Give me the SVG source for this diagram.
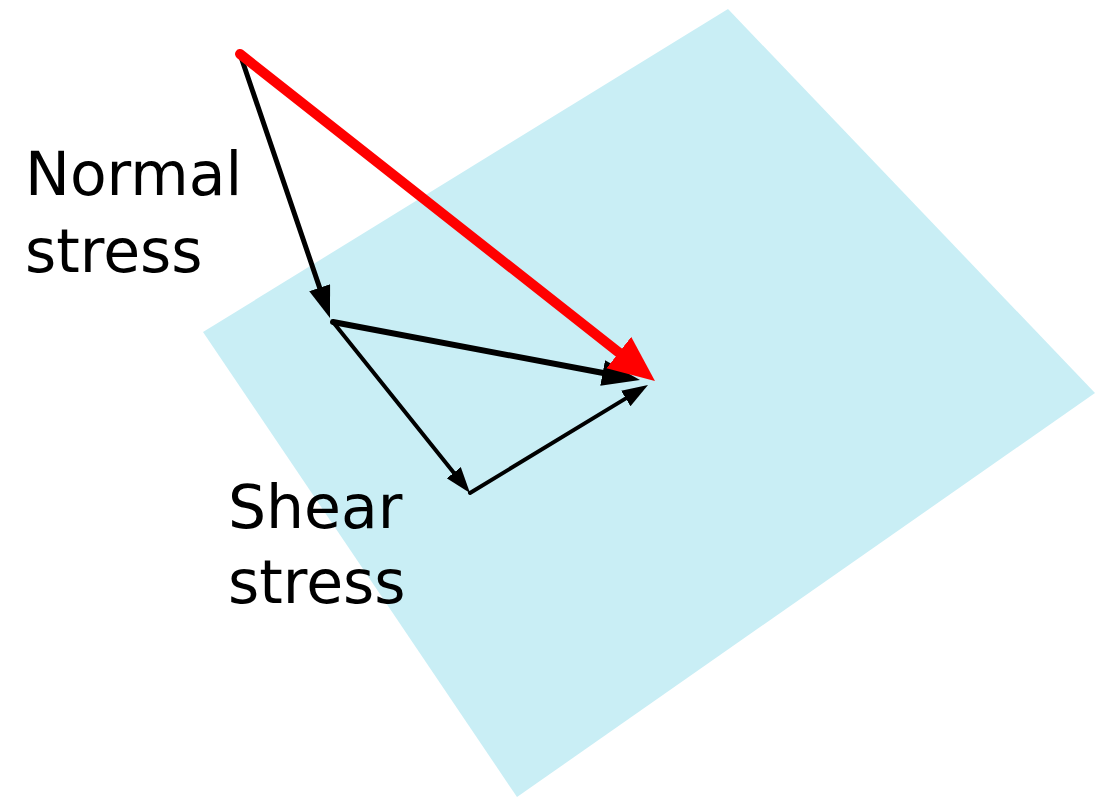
<svg xmlns="http://www.w3.org/2000/svg" width="1101" height="797" viewBox="0 0 1101 797">
<style>
.lbl{font-family:"DejaVu Sans","Liberation Sans",sans-serif;font-size:60px;fill:#000}
.blk{stroke:#000;fill:none;stroke-linecap:round}
</style>
<defs>
<marker id="hRed" markerUnits="userSpaceOnUse" markerWidth="50" markerHeight="44" refX="2" refY="20" orient="auto" viewBox="0 0 50 44"><polygon points="0,0 46,20 0,40" fill="#ff0000"/></marker>
<marker id="hBig" markerUnits="userSpaceOnUse" markerWidth="40" markerHeight="30" refX="2" refY="13" orient="auto" viewBox="0 0 40 30"><polygon points="0,0 38,13 0,26" fill="#000"/></marker>
<marker id="hMid" markerUnits="userSpaceOnUse" markerWidth="34" markerHeight="26" refX="2" refY="11" orient="auto" viewBox="0 0 34 26"><polygon points="0,0 32,11 0,22" fill="#000"/></marker>
<marker id="hSm" markerUnits="userSpaceOnUse" markerWidth="28" markerHeight="22" refX="2" refY="9" orient="auto" viewBox="0 0 28 22"><polygon points="0,0 26,9 0,18" fill="#000"/></marker>
</defs>
<g id="plane"><polygon points="728,9 1095,393 517,797 203,332" fill="#c9eef5"/></g>
<g id="connectors">
<line x1="240" y1="54" x2="320.3" y2="289.6" class="blk" stroke-width="5" marker-end="url(#hMid)"/>
<line x1="333" y1="322" x2="604.6" y2="373.3" class="blk" stroke-width="6" marker-end="url(#hBig)"/>
<line x1="333" y1="322" x2="455" y2="474.3" class="blk" stroke-width="4" marker-end="url(#hSm)"/>
<line x1="470" y1="493" x2="627.5" y2="397.4" class="blk" stroke-width="4" marker-end="url(#hSm)"/>
<line x1="240" y1="54" x2="620.4" y2="353.8" stroke="#ff0000" stroke-width="10" stroke-linecap="round" marker-end="url(#hRed)"/>
</g>
<g id="normal-label"><text class="lbl" x="25" y="195">Normal</text><text class="lbl" x="25" y="272">stress</text></g>
<g id="shear-label"><text class="lbl" x="228" y="528">Shear</text><text class="lbl" x="228" y="603">stress</text></g>
</svg>
